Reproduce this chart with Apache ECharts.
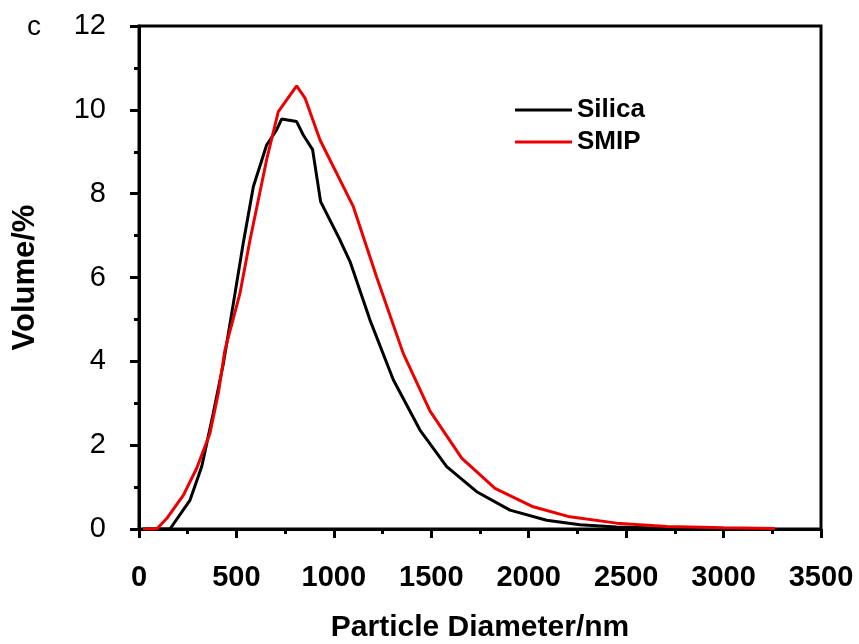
<!DOCTYPE html>
<html>
<head>
<meta charset="utf-8">
<script src="https://cdn.jsdelivr.net/npm/echarts@6/dist/echarts.min.js"></script>
<style>html,body{margin:0;padding:0;background:#fff}#c{width:859px;height:644px}</style>
</head>
<body>
<div id="c"></div>
<script>
var silicaX = [20, 159, 262, 322, 381, 433, 476, 535, 587, 655, 706, 732, 809, 843, 891, 932, 1031, 1083, 1185, 1305, 1442, 1579, 1733, 1904, 2092, 2263, 2451, 2700, 3000, 3263];
var silicaY = [0, 0, 0.69, 1.49, 2.76, 3.95, 5.15, 6.82, 8.17, 9.16, 9.52, 9.78, 9.72, 9.40, 9.05, 7.81, 6.90, 6.38, 4.99, 3.56, 2.36, 1.49, 0.89, 0.45, 0.21, 0.10, 0.05, 0.02, 0.01, 0];
var smipX = [20, 91, 142, 228, 296, 364, 407, 441, 518, 570, 655, 715, 809, 852, 929, 1100, 1219, 1356, 1493, 1656, 1827, 2023, 2211, 2451, 2708, 3000, 3263];
var smipY = [0, 0, 0.25, 0.81, 1.45, 2.28, 3.24, 4.27, 5.62, 6.90, 8.81, 9.96, 10.57, 10.28, 9.28, 7.69, 6.02, 4.19, 2.82, 1.69, 0.97, 0.53, 0.29, 0.14, 0.06, 0.03, 0.01];
var seriesNames = ['Silica', 'SMIP'];
var xTitle = 'Particle Diameter/nm';
var yTitle = 'Volume/%';
var panelLabel = 'c';

function pairs(xs, ys) { return xs.map(function (x, i) { return [x, ys[i]]; }); }

var chart = echarts.init(document.getElementById('c'));
chart.setOption({
  animation: false,
  backgroundColor: '#fff',
  grid: { left: 139, right: 38, top: 26, bottom: 115, show: true, borderColor: '#000', borderWidth: 3,
    containLabel: false, outerBoundsMode: 'none' },
  legend: {
    orient: 'vertical', left: 510, top: 92, itemWidth: 57, itemHeight: 3, itemGap: 6,
    icon: 'rect',
    textStyle: { fontFamily: 'Liberation Sans', fontWeight: 'bold', fontSize: 26, color: '#000' },
    data: seriesNames
  },
  xAxis: {
    type: 'value', min: 0, max: 3500, interval: 500,
    name: xTitle, nameLocation: 'middle', nameGap: 84,
    nameTextStyle: { fontFamily: 'Liberation Sans', fontWeight: 'bold', fontSize: 30, color: '#000' },
    axisLine: { lineStyle: { color: '#000', width: 3 } },
    axisTick: { show: true, inside: false, length: 9, lineStyle: { color: '#000', width: 3 } },
    minorTick: { show: true, splitNumber: 2, length: 5, lineStyle: { color: '#000', width: 3 } },
    splitLine: { show: false },
    axisLabel: { margin: 34, fontFamily: 'Liberation Sans', fontWeight: 'bold', fontSize: 29, color: '#000',
      formatter: function (v) { return String(v); } }
  },
  yAxis: {
    type: 'value', min: 0, max: 12, interval: 2,
    name: yTitle, nameLocation: 'middle', nameGap: 98,
    nameTextStyle: { fontFamily: 'Liberation Sans', fontWeight: 'bold', fontSize: 31, color: '#000' },
    axisLine: { lineStyle: { color: '#000', width: 3 } },
    axisTick: { show: true, inside: false, length: 9, lineStyle: { color: '#000', width: 3 } },
    minorTick: { show: true, splitNumber: 2, length: 5, lineStyle: { color: '#000', width: 3 } },
    splitLine: { show: false },
    axisLabel: { margin: 33, fontFamily: 'Liberation Sans', fontSize: 29, color: '#000' }
  },
  graphic: [{
    type: 'text', left: 27, top: 13,
    style: { text: panelLabel, font: '28px "Liberation Sans"', fill: '#000' }
  }],
  series: [
    { name: seriesNames[0], type: 'line', data: pairs(silicaX, silicaY), showSymbol: false, symbol: 'none',
      lineStyle: { color: '#000', width: 3 }, itemStyle: { color: '#000' }, z: 3 },
    { name: seriesNames[1], type: 'line', data: pairs(smipX, smipY), showSymbol: false, symbol: 'none',
      lineStyle: { color: '#ee0000', width: 3 }, itemStyle: { color: '#ee0000' }, z: 4 }
  ]
});
</script>
</body>
</html>
